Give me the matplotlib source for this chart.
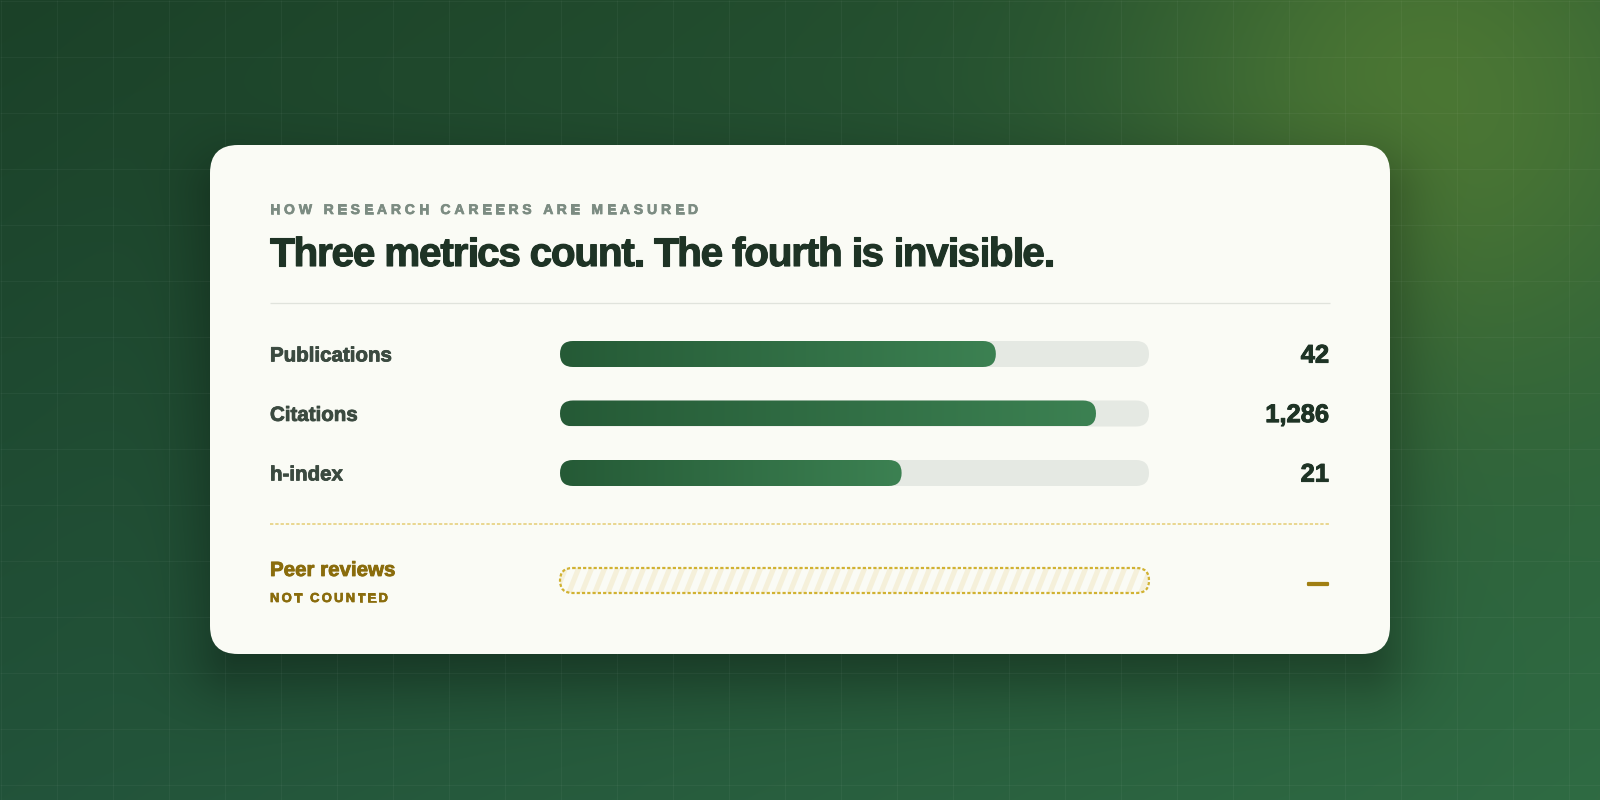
import numpy as np
import matplotlib
matplotlib.use("Agg")
import matplotlib.pyplot as plt
from matplotlib.patches import FancyBboxPatch
from matplotlib.collections import PolyCollection
from matplotlib.font_manager import FontProperties
import matplotlib.patheffects as pe

plt.rcParams['lines.scale_dashes'] = False

# ---------------- data ----------------
eyebrow = "HOW RESEARCH CAREERS ARE MEASURED"
title = "Three metrics count. The fourth is invisible."
metrics = ["Publications", "Citations", "h-index"]
metric_values = [42, 1286, 21]
bar_share = [0.74, 0.91, 0.58]          # filled share of each track
uncounted_metric = "Peer reviews"
uncounted_note = "NOT COUNTED"
uncounted_value = "\u2014"

# ---------------- canvas ----------------
W, H, DPI = 1600, 800, 100
fig = plt.figure(figsize=(W / DPI, H / DPI), dpi=DPI)
ax = fig.add_axes([0, 0, 1, 1])
ax.axis('off')
renderer = fig.canvas.get_renderer()

FONT = 'Liberation Sans'


def fp(px, weight='bold'):
    return FontProperties(family=FONT, weight=weight, size=px * 72.0 / DPI)


def heavy(color, w=0.6):
    return [pe.withStroke(linewidth=w, foreground=color)]


def hexrgb(h):
    return np.array([int(h[i:i + 2], 16) for i in (1, 3, 5)]) / 255.0


# ---------------- background ----------------
yy, xx = np.mgrid[0:H, 0:W].astype(float) + 0.5
u = (xx / W)[..., None]
v = (yy / H)[..., None]
tl, tr, bl, br = hexrgb('#1b4128'), hexrgb('#2a5934'), hexrgb('#22533a'), hexrgb('#2f6b43')
bg = tl * (1 - u) * (1 - v) + tr * u * (1 - v) + bl * (1 - u) * v + br * u * v
g = np.exp(-((xx - 1430) ** 2 + (yy - 100) ** 2) / (2 * 200.0 ** 2))[..., None]
glow = hexrgb('#517c34')
bg = bg * (1 - 0.85 * g) + glow * 0.85 * g

# card geometry
CX0, CY0, CW, CH, CR = 210, 145, 1180, 509, 28

# soft card shadow (signed distance to a rounded rectangle)
cx, cy = CX0 + CW / 2, CY0 + CH / 2 + 26
hx, hy = CW / 2 - CR, CH / 2 - CR
qx = np.abs(xx - cx) - hx
qy = np.abs(yy - cy) - hy
d = np.hypot(np.maximum(qx, 0), np.maximum(qy, 0)) + np.minimum(np.maximum(qx, qy), 0) - CR
shadow = 1.0 / (1.0 + np.exp(d / 22.0))
bg = bg * (1 - 0.42 * shadow)[..., None]

ax.imshow(np.clip(bg, 0, 1), extent=(0, W, H, 0), interpolation='bilinear', zorder=0)

# grid
ax.vlines(np.arange(0, W + 1, 56) + 0.5, 0, H, color='white', alpha=0.04, lw=0.9, zorder=1)
ax.hlines(np.arange(0, H + 1, 56) + 0.5, 0, W, color='white', alpha=0.04, lw=0.9, zorder=1)

# ---------------- card ----------------
card = FancyBboxPatch((CX0, CY0), CW, CH, boxstyle=f"round,pad=0,rounding_size={CR}",
                      fc='#fafbf5', ec='none', zorder=2)
ax.add_patch(card)


def text_width(s, prop):
    w1, _, _ = renderer.get_text_width_height_descent(s + 'x', prop, ismath=False)
    w2, _, _ = renderer.get_text_width_height_descent('x', prop, ismath=False)
    return w1 - w2


def spaced_text(x, y, s, prop, tracking, color, stroke=0.6, z=6):
    for i, ch in enumerate(s):
        if ch == ' ':
            continue
        xi = x + text_width(s[:i], prop) + i * tracking
        ax.text(xi, y, ch, fontproperties=prop, color=color, ha='left', va='baseline',
                zorder=z, path_effects=heavy(color, stroke))


LEFT, RIGHT = 270, 1329

# eyebrow and title
spaced_text(LEFT, 214, eyebrow, fp(14), 3.85, '#7c8c82', stroke=0.5)
spaced_text(LEFT, 266, title, fp(40.5), -1.25, '#1e3325', stroke=0.8)

# divider
ax.plot([LEFT, 1330], [302.5, 302.5], color='#e0e3dc', lw=0.9, zorder=3, solid_capstyle='butt')

# ---------------- bars ----------------
TRACK_X, TRACK_W, BAR_H = 560, 589, 26
row_y = [354, 413.5, 473]
c0, c1 = hexrgb('#255a36'), hexrgb('#3c8152')
grad = np.linspace(0, 1, 256)[None, :, None]
grad_img = c0 * (1 - grad) + c1 * grad

for label, val, share, yc in zip(metrics, metric_values, bar_share, row_y):
    ax.text(LEFT, yc + 7.4, label, fontproperties=fp(20.5), color='#3b4a40',
            ha='left', va='baseline', zorder=6, path_effects=heavy('#3b4a40', 0.6))
    track = FancyBboxPatch((TRACK_X, yc - BAR_H / 2), TRACK_W, BAR_H,
                           boxstyle=f"round,pad=0,rounding_size={BAR_H / 2}",
                           fc='#e5e9e3', ec='none', zorder=3)
    ax.add_patch(track)
    fw = TRACK_W * share
    fill = FancyBboxPatch((TRACK_X, yc - BAR_H / 2), fw, BAR_H,
                          boxstyle=f"round,pad=0,rounding_size={BAR_H / 2}",
                          fc='none', ec='none', transform=ax.transData)
    im = ax.imshow(grad_img, extent=(TRACK_X, TRACK_X + fw, yc + BAR_H / 2, yc - BAR_H / 2),
                   aspect='auto', interpolation='bilinear', zorder=4)
    im.set_clip_path(fill)
    ax.text(RIGHT, yc + 8.6, f"{val:,}", fontproperties=fp(25.5), color='#1e3325',
            ha='right', va='baseline', zorder=6, path_effects=heavy('#1e3325', 0.7))

# dashed gold separator
ax.plot([LEFT, 1330], [524, 524], color='#e6d07e', lw=1.2, dashes=(2.4, 1.4), zorder=3)

# ---------------- uncounted row ----------------
PY = 580.5
PH = 25
ax.text(LEFT, 576, uncounted_metric, fontproperties=fp(20.5), color='#8a6c0c',
        ha='left', va='baseline', zorder=6, path_effects=heavy('#8a6c0c', 0.6))
spaced_text(LEFT, 602, uncounted_note, fp(13), 2.3, '#8a6c0c', stroke=0.5)

pill_clip = FancyBboxPatch((TRACK_X, PY - PH / 2), TRACK_W, PH,
                           boxstyle=f"round,pad=0,rounding_size={PH / 2}",
                           fc='none', ec='none', transform=ax.transData)
period, sw, shift = 13.0, 5.5, 10.0
polys = []
xb = TRACK_X - 20
while xb < TRACK_X + TRACK_W + 20:
    polys.append([(xb, PY + PH / 2), (xb + sw, PY + PH / 2),
                  (xb + sw + shift, PY - PH / 2), (xb + shift, PY - PH / 2)])
    xb += period
stripes = PolyCollection(polys, facecolors='#f5f0da', edgecolors='none', zorder=4)
ax.add_collection(stripes)
stripes.set_clip_path(pill_clip)
border = FancyBboxPatch((TRACK_X, PY - PH / 2), TRACK_W, PH,
                        boxstyle=f"round,pad=0,rounding_size={PH / 2}",
                        fc='none', ec='#d1b232', lw=1.6, linestyle=(0, (2.3, 1.5)), zorder=5)
ax.add_patch(border)

ax.text(RIGHT - 1, 589, uncounted_value, fontproperties=fp(20), color='#a07f12',
        ha='right', va='baseline', zorder=6, path_effects=heavy('#a07f12', 1.6))

ax.set_xlim(0, W)
ax.set_ylim(H, 0)
fig.savefig('out.png', dpi=DPI)
